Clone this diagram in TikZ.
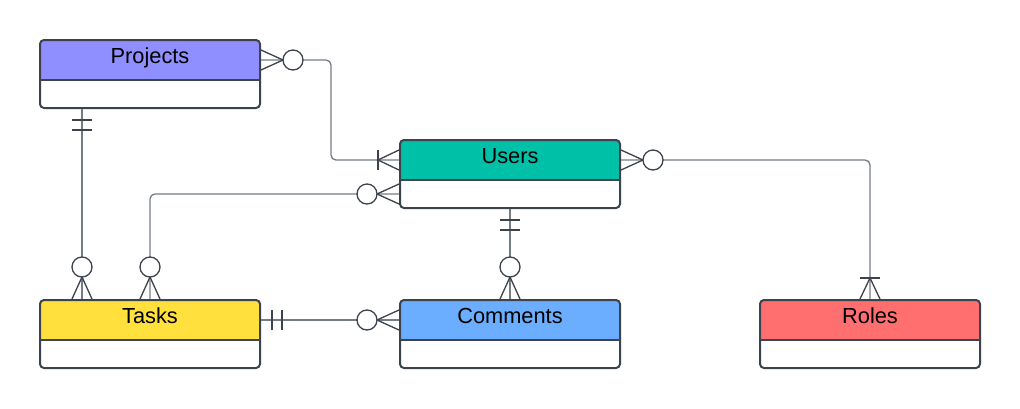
\documentclass[tikz,border=0pt]{standalone}
\usepackage{fontspec}
\setmainfont{Liberation Sans}
\usetikzlibrary{calc}
\definecolor{bd}{HTML}{3D434C}
\definecolor{ln}{HTML}{767C86}
\definecolor{cP}{HTML}{8F8FFF}
\definecolor{cU}{HTML}{00C1A8}
\definecolor{cT}{HTML}{FFE03D}
\definecolor{cC}{HTML}{6BAEFF}
\definecolor{cR}{HTML}{FF6F6F}
\tikzset{
  entity/.style={draw=bd, line width=2pt, rounded corners=4pt, minimum width=220pt,
    minimum height=68pt, inner sep=0pt, fill=white,
    path picture={
      \fill[#1] (path picture bounding box.north west) rectangle ([yshift=-40pt]path picture bounding box.east |- path picture bounding box.north);
      \draw[bd, line width=2pt] ([yshift=-40pt]path picture bounding box.north west) -- ([yshift=-40pt]path picture bounding box.east |- path picture bounding box.north);
    }},
  title/.style={anchor=base, inner sep=0pt, font=\fontsize{21.8}{26}\selectfont},
  conn/.style={draw=ln, line width=1.3pt, rounded corners=5pt},
  sym/.style={draw=bd, line width=1.3pt},
  zmany/.pic={\draw[sym] (0,10) -- (22,0) -- (0,-10); \draw[sym, fill=white] (32,0) circle (10);},
  omany/.pic={\draw[sym] (0,10) -- (21,0) -- (0,-10); \draw[sym] (21,10) -- (21,-10);},
  mone/.pic={\draw[sym] (11,10) -- (11,-10); \draw[sym] (21,10) -- (21,-10);},
}
\begin{document}
\begin{tikzpicture}[x=1pt, y=-1pt]
\useasboundingbox (0,0) rectangle (1020,408);
\fill[white] (0,0) rectangle (1020,408);

\node[entity=cP] (P) at (150,74) {};
\node[entity=cU] (U) at (510,174) {};
\node[entity=cT] (T) at (150,334) {};
\node[entity=cC] (C) at (510,334) {};
\node[entity=cR] (R) at (870,334) {};

\node[title] (Pt) at ($(P.north)+(0,24.5)$) {Projects};
\node[title] (Ut) at ($(U.north)+(0,24.5)$) {Users};
\node[title] (Tt) at ($(T.north)+(0,24.5)$) {Tasks};
\node[title] (Ct) at ($(C.north)+(0,24.5)$) {Comments};
\node[title] (Rt) at ($(R.north)+(0,24.5)$) {Roles};

% anchor points
\coordinate (p1) at ($(P.east)+(0,-14)$);
\coordinate (u1) at ($(U.west)+(0,-14)$);
\coordinate (p2) at ($(P.south)+(-68,0)$);
\coordinate (t2) at ($(T.north)+(-68,0)$);
\coordinate (u3) at ($(U.west)+(0,20)$);
\coordinate (t3) at (T.north);
\coordinate (u4) at (U.south);
\coordinate (c4) at (C.north);
\coordinate (t5) at ($(T.east)+(0,-14)$);
\coordinate (c5) at ($(C.west)+(0,-14)$);
\coordinate (u6) at ($(U.east)+(0,-14)$);
\coordinate (r6) at (R.north);

% connectors
\draw[conn] (p1) -- ++(70,0) |- (u1);
\draw[conn] (p2) -- (t2);
\draw[conn] (u3) -| (t3);
\draw[conn] (u4) -- (c4);
\draw[conn] (t5) -- (c5);
\draw[conn] (u6) -| (r6);

% ends
\pic at (p1) {zmany};
\pic[rotate=180] at (u1) {omany};
\pic[rotate=-90] at (p2) {mone};
\pic[rotate=90] at (t2) {zmany};
\pic[rotate=180] at (u3) {zmany};
\pic[rotate=90] at (t3) {zmany};
\pic[rotate=-90] at (u4) {mone};
\pic[rotate=90] at (c4) {zmany};
\pic at (t5) {mone};
\pic[rotate=180] at (c5) {zmany};
\pic at (u6) {zmany};
\pic[rotate=90] at (r6) {omany};
\end{tikzpicture}
\end{document}
